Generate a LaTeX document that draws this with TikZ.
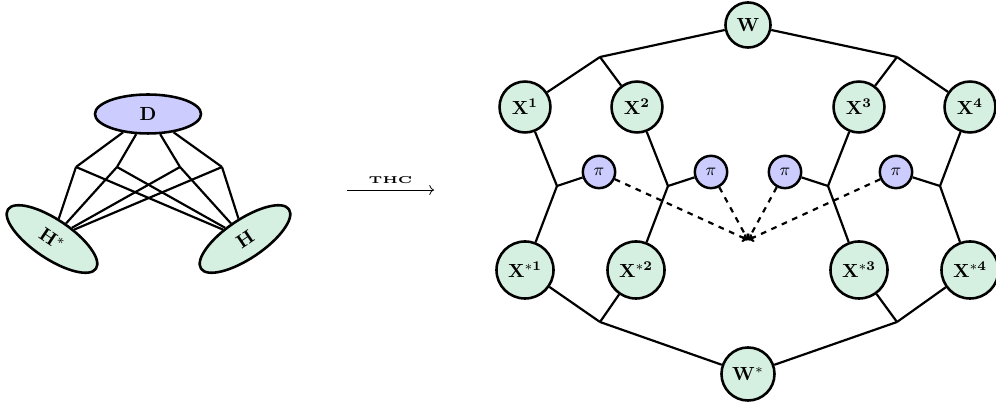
\documentclass[tikz,border=0pt]{standalone}
\usetikzlibrary{shapes.geometric,arrows.meta}
\definecolor{ngreen}{HTML}{D5EFE0}
\definecolor{nblue}{HTML}{CCCCFF}
\begin{document}
\begin{tikzpicture}[x=0.526pt,y=-0.526pt,
 edge/.style={line width=1.15pt},
 dedge/.style={line width=1.15pt,dashed,-{To[length=3pt,width=4.5pt]}},
 gnode/.style={circle,draw,line width=1.35pt,fill=ngreen,inner sep=0pt},
 pnode/.style={circle,draw,line width=1.3pt,fill=nblue,inner sep=0pt,minimum size=17pt,font=\small},
 ell/.style={ellipse,draw,line width=1.35pt,inner sep=0pt,minimum width=55.8pt,minimum height=20.5pt}]
\useasboundingbox (0,0) rectangle (996,410);
% ---------- left graph ----------
\node[ell,fill=nblue] (D) at (148,114) {\textbf{D}};
\node[ell,fill=ngreen,rotate=-34] (Hs) at (52,239) {$\mathbf{H}^{*}$};
\node[ell,fill=ngreen,rotate=34] (H) at (245,239) {$\mathbf{H}$};
\coordinate (j1) at (76,167);
\coordinate (j2) at (117,167);
\coordinate (j3) at (180,167);
\coordinate (j4) at (222,167);
\foreach \j in {j1,j2,j3,j4}{
  \draw[edge] (D) -- (\j);
  \draw[edge] (\j) -- (Hs);
  \draw[edge] (\j) -- (H);
}
% ---------- arrow ----------
\coordinate (a1) at (347,190);
\coordinate (a2) at (434,190);
\draw[->] (a1) -- node[above=2pt,inner sep=1pt] (thc) {\scalebox{1.4}[1.05]{\tiny\bfseries THC}} (a2);
% ---------- right graph ----------
\node[gnode,minimum size=23.7pt] (W) at (748,25) {$\mathbf{W}$};
\node[gnode,minimum size=27.9pt] (Ws) at (748,374) {$\mathbf{W}^{*}$};
\node[gnode,minimum size=26.8pt] (X1) at (525,107) {$\mathbf{X}^{\mathbf{1}}$};
\node[gnode,minimum size=26.8pt] (X2) at (637,107) {$\mathbf{X}^{\mathbf{2}}$};
\node[gnode,minimum size=26.8pt] (X3) at (859,107) {$\mathbf{X}^{\mathbf{3}}$};
\node[gnode,minimum size=26.8pt] (X4) at (970,107) {$\mathbf{X}^{\mathbf{4}}$};
\node[gnode,minimum size=30pt] (Xs1) at (525,270) {$\mathbf{X}^{*\mathbf{1}}$};
\node[gnode,minimum size=30pt] (Xs2) at (636,270) {$\mathbf{X}^{*\mathbf{2}}$};
\node[gnode,minimum size=30pt] (Xs3) at (859,270) {$\mathbf{X}^{*\mathbf{3}}$};
\node[gnode,minimum size=30pt] (Xs4) at (970,270) {$\mathbf{X}^{*\mathbf{4}}$};
\node[pnode] (p1) at (599,172) {$\pi$};
\node[pnode] (p2) at (711,172) {$\pi$};
\node[pnode] (p3) at (785,172) {$\pi$};
\node[pnode] (p4) at (896,172) {$\pi$};
\coordinate (t1) at (600,57);
\coordinate (t2) at (897,57);
\coordinate (m1) at (557,186);
\coordinate (m2) at (668,186);
\coordinate (m3) at (828,186);
\coordinate (m4) at (940,186);
\coordinate (b1) at (600,322);
\coordinate (b2) at (897,322);
\coordinate (meet) at (748,240);
\draw[edge] (W) -- (t1);
\draw[edge] (W) -- (t2);
\draw[edge] (t1) -- (X1);
\draw[edge] (t1) -- (X2);
\draw[edge] (t2) -- (X3);
\draw[edge] (t2) -- (X4);
\draw[edge] (X1) -- (m1);
\draw[edge] (X2) -- (m2);
\draw[edge] (X3) -- (m3);
\draw[edge] (X4) -- (m4);
\draw[edge] (p1) -- (m1);
\draw[edge] (p2) -- (m2);
\draw[edge] (p3) -- (m3);
\draw[edge] (p4) -- (m4);
\draw[edge] (m1) -- (Xs1);
\draw[edge] (m2) -- (Xs2);
\draw[edge] (m3) -- (Xs3);
\draw[edge] (m4) -- (Xs4);
\draw[edge] (Xs1) -- (b1);
\draw[edge] (Xs2) -- (b1);
\draw[edge] (Xs3) -- (b2);
\draw[edge] (Xs4) -- (b2);
\draw[edge] (b1) -- (Ws);
\draw[edge] (b2) -- (Ws);
\draw[dedge] (p1) -- (meet);
\draw[dedge] (p2) -- (meet);
\draw[dedge] (p3) -- (meet);
\draw[dedge] (p4) -- (meet);
\end{tikzpicture}
\end{document}
